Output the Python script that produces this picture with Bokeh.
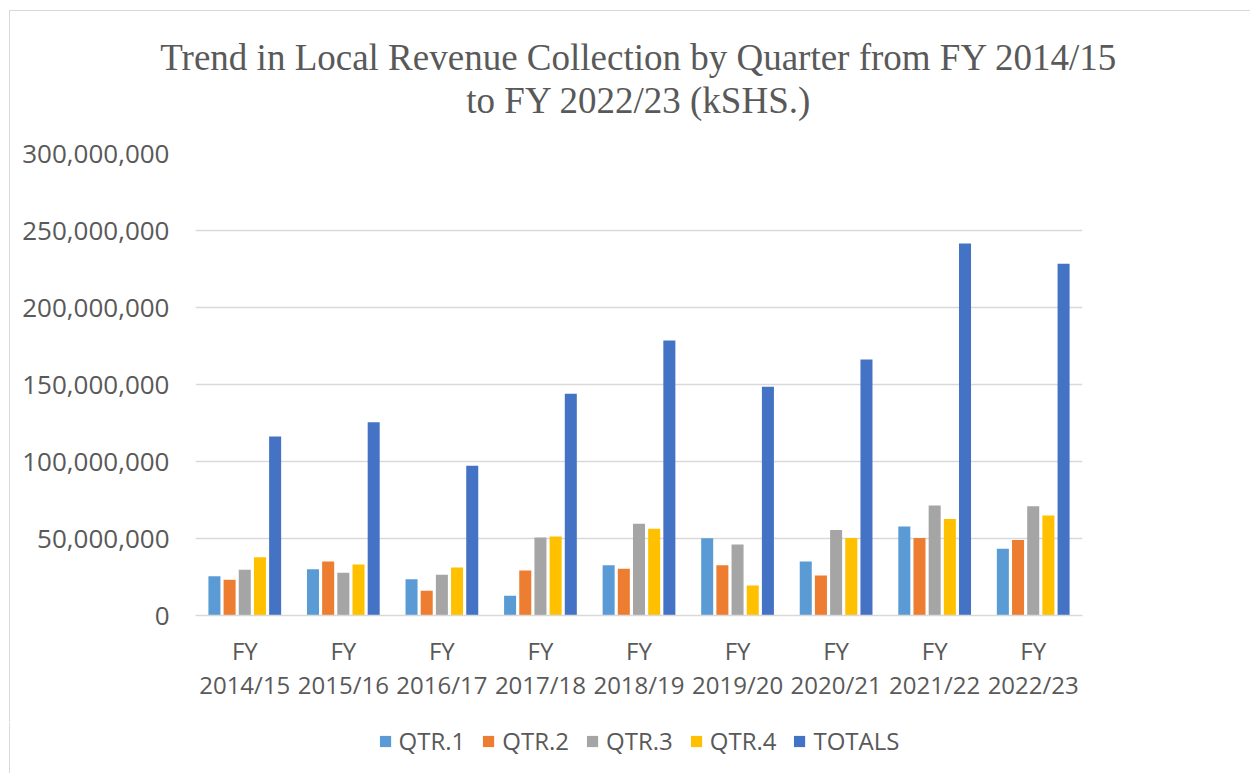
from bokeh.plotting import figure
from bokeh.layouts import column
from bokeh.models import (ColumnDataSource, Range1d, FixedTicker, NumeralTickFormatter,
                          Title, Legend, LegendItem, LinearAxis, CustomJSTickFormatter)
from bokeh.transform import dodge
from bokeh.embed import file_html
from bokeh.resources import INLINE

# ---- data (kSHS) ----
years = ["2014/15", "2015/16", "2016/17", "2017/18", "2018/19",
         "2019/20", "2020/21", "2021/22", "2022/23"]
prefix = "FY"
qtr1 = [25500000, 30100000, 23600000, 12800000, 32700000, 50200000, 35100000, 57800000, 43300000]
qtr2 = [23200000, 35100000, 16000000, 29200000, 30300000, 32700000, 26000000, 50400000, 49100000]
qtr3 = [29700000, 27700000, 26400000, 50600000, 59500000, 46100000, 55600000, 71400000, 71000000]
qtr4 = [37900000, 33100000, 31200000, 51300000, 56300000, 19500000, 50400000, 62600000, 64900000]
totals = [116200000, 125500000, 97200000, 144000000, 178600000, 148500000, 166200000, 241600000, 228400000]
series_names = ["QTR.1", "QTR.2", "QTR.3", "QTR.4", "TOTALS"]
y_ticks = [0, 50000000, 100000000, 150000000, 200000000, 250000000, 300000000]

colors = ["#5B9BD5", "#ED7D31", "#A5A5A5", "#FFC000", "#4472C4"]
TXT = "#595959"
FONT = "Open Sans"

n = len(years)
centers = [i + 0.5 for i in range(n)]  # category slots on the x scale
source = ColumnDataSource(dict(xc=centers, q1=qtr1, q2=qtr2, q3=qtr3, q4=qtr4, tot=totals))
fields = ["q1", "q2", "q3", "q4", "tot"]
offsets = [-0.308, -0.154, 0.0, 0.154, 0.308]

p = figure(x_range=Range1d(0, n), y_range=Range1d(0, 300000000),
           width=1241, height=712, output_backend="svg", toolbar_location=None,
           min_border_left=185, min_border_right=169, min_border_top=142,
           min_border_bottom=108)
p.margin = (11, 0, 0, 10)
p.styles = {"box-shadow": "-1px -1px 0 0 #d9d9d9"}
p.outline_line_color = None
p.background_fill_color = "white"
p.border_fill_color = "white"
p.title = None

# titles (first added is closest to frame); a blank spacer sits next to the frame
p.add_layout(Title(text=" ", text_font_size="28px", standoff=0), "above")
p.add_layout(Title(text="to FY 2022/23 (kSHS.)", align="center", text_font="Liberation Serif",
                   text_font_size="37px", text_font_style="normal", text_color=TXT,
                   offset=-5, standoff=0), "above")
p.add_layout(Title(text="Trend in Local Revenue Collection by Quarter from FY 2014/15",
                   align="center", text_font="Liberation Serif", text_font_size="37px",
                   text_font_style="normal", text_color=TXT, offset=-5, standoff=0), "above")

renderers = []
for f, off, c in zip(fields, offsets, colors):
    r = p.vbar(x=dodge("xc", off), top=f, width=0.122, source=source,
               fill_color=c, line_color=None)
    renderers.append(r)

# y axis
p.yaxis.ticker = FixedTicker(ticks=y_ticks)
p.yaxis.formatter = NumeralTickFormatter(format="0,0")
p.yaxis.axis_line_color = None
p.yaxis.major_tick_line_color = None
p.yaxis.minor_tick_line_color = None
p.yaxis.major_label_text_font = FONT
p.yaxis.major_label_text_font_size = "26px"
p.yaxis.major_label_text_color = TXT
p.yaxis.major_label_standoff = 20

# x axis: two lines of labels ("FY" / year)
p.xaxis.ticker = FixedTicker(ticks=centers)
p.xaxis.formatter = CustomJSTickFormatter(args=dict(lab=prefix), code="return lab;")
p.xaxis.axis_line_color = "#D9D9D9"
p.xaxis.axis_line_width = 1.5
p.xaxis.major_tick_line_color = None
p.xaxis.minor_tick_line_color = None
p.xaxis.major_label_text_font = FONT
p.xaxis.major_label_text_font_size = "24px"
p.xaxis.major_label_text_color = TXT
p.xaxis.major_label_standoff = 12

ax2 = LinearAxis(ticker=FixedTicker(ticks=centers),
                 formatter=CustomJSTickFormatter(args=dict(labels=years),
                                                 code="return labels[Math.round(tick - 0.5)];"),
                 axis_line_color=None, major_tick_line_color=None, minor_tick_line_color=None,
                 major_label_text_font=FONT, major_label_text_font_size="24px",
                 major_label_text_color=TXT, major_label_standoff=-8)
p.add_layout(ax2, "below")

p.xgrid.grid_line_color = None
p.ygrid.grid_line_color = "#D9D9D9"
p.ygrid.grid_line_width = 1.5

# legend in its own strip below the chart (its bars have zero height, so only the key shows)
lf = figure(width=1241, height=50, output_backend="svg", toolbar_location=None,
            x_range=Range1d(0, n), y_range=Range1d(0, 300000000),
            min_border=0, min_border_left=6, outline_line_color=None)
lf.margin = (0, 0, 0, 10)
lf.styles = {"box-shadow": "-1px 0 0 0 #d9d9d9"}
lf.axis.visible = False
lf.grid.visible = False
lf.border_fill_color = "white"
lf.background_fill_color = "white"
lrs = []
for f, off, c in zip(fields, offsets, colors):
    lrs.append(lf.vbar(x=dodge("xc", off), top=f, bottom=f, width=0.122, source=source,
                       fill_color=c, line_color=None))
legend = Legend(items=[LegendItem(label=nm, renderers=[r]) for nm, r in zip(series_names, lrs)],
                orientation="horizontal", location="top_center",
                label_text_font=FONT, label_text_font_size="24px", label_text_color=TXT,
                glyph_width=14, glyph_height=14, label_standoff=7, spacing=16,
                border_line_color=None, background_fill_color="white", background_fill_alpha=1,
                margin=1, padding=3)
lf.add_layout(legend, "center")

layout = column(p, lf, spacing=0)
open("out.html", "w").write(file_html(layout, INLINE))
